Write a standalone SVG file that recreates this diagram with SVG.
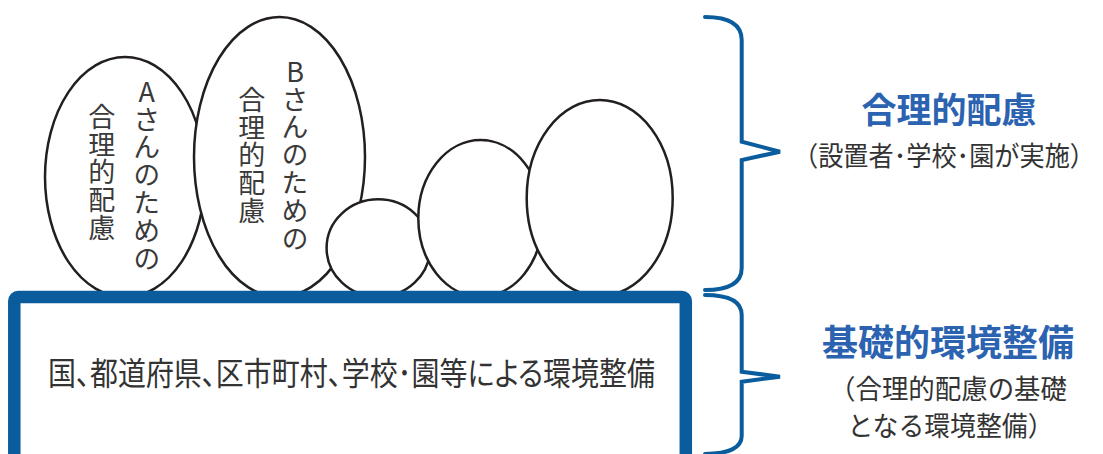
<svg xmlns="http://www.w3.org/2000/svg" width="1103" height="454" viewBox="0 0 1103 454">
<style>
.bub{fill:#ffffff;stroke:#231f20;stroke-width:2.5}
.vt{font-family:"Noto Sans CJK JP","Noto Sans",sans-serif;font-size:27px;fill:#3a3a3a;writing-mode:vertical-rl;text-orientation:upright;letter-spacing:0.8px}
.t{font-family:"Noto Sans CJK JP","Noto Sans",sans-serif;fill:#333333}
.h{font-family:"Noto Sans CJK JP","Noto Sans",sans-serif;font-weight:bold;fill:#2b63b0;text-anchor:middle}
.brace{fill:none;stroke:#0a5c9c;stroke-width:4;stroke-linejoin:miter;stroke-linecap:round}
</style>
<rect width="1103" height="454" fill="#ffffff"/>
<g id="bubble-a">
<ellipse class="bub" cx="125" cy="177" rx="80" ry="120"/>
<text class="vt" x="146.7" y="78">Aさんのための</text>
<text class="vt" x="101.7" y="103">合理的配慮</text>
</g>
<g id="bubble-b">
<ellipse class="bub" cx="279.5" cy="157" rx="85.5" ry="140"/>
<text class="vt" x="295" y="58">Bさんのための</text>
<text class="vt" x="251.7" y="86">合理的配慮</text>
</g>
<g id="bubble-c">
<ellipse class="bub" cx="378.3" cy="248" rx="51.7" ry="48.7"/>
</g>
<g id="bubble-d">
<ellipse class="bub" cx="480.5" cy="218.3" rx="62.2" ry="78.3"/>
</g>
<g id="bubble-e">
<ellipse class="bub" cx="599.7" cy="198" rx="73" ry="98"/>
</g>
<g id="base">
<rect x="14.3" y="297" width="671.5" height="200" rx="4" fill="#ffffff" stroke="#0a5c9c" stroke-width="12.5"/>
<text class="t" x="48" y="385" font-size="32" textLength="607" lengthAdjust="spacingAndGlyphs" style="font-feature-settings:'palt'">国、都道府県、区市町村、学校･園等による環境整備</text>
</g>
<g id="connectors">
<path class="brace" d="M705 17 C730 17 741.7 25 741.7 40 V141.7 L780 151.7 L741.7 160 V268 C741.7 282 730 290 705 290"/>
<path class="brace" d="M705 295 C730 295 741.7 302 741.7 315 V371.7 L780 376.7 L741.7 381.7 V436 C741.7 447 730 454 705 454"/>
</g>
<g id="label-reasonable">
<text class="h" x="949" y="123" font-size="35">合理的配慮</text>
<text class="t" x="793" y="165.5" font-size="27" textLength="302" lengthAdjust="spacingAndGlyphs">（設置者･学校･園が実施）</text>
</g>
<g id="label-basic">
<text class="h" x="948" y="356" font-size="36">基礎的環境整備</text>
<text class="t" x="948" y="398.5" font-size="27" text-anchor="middle" textLength="238" lengthAdjust="spacingAndGlyphs">（合理的配慮の基礎</text>
<text class="t" x="950.5" y="435.5" font-size="27" text-anchor="middle" textLength="206" lengthAdjust="spacingAndGlyphs">となる環境整備）</text>
</g>
</svg>
